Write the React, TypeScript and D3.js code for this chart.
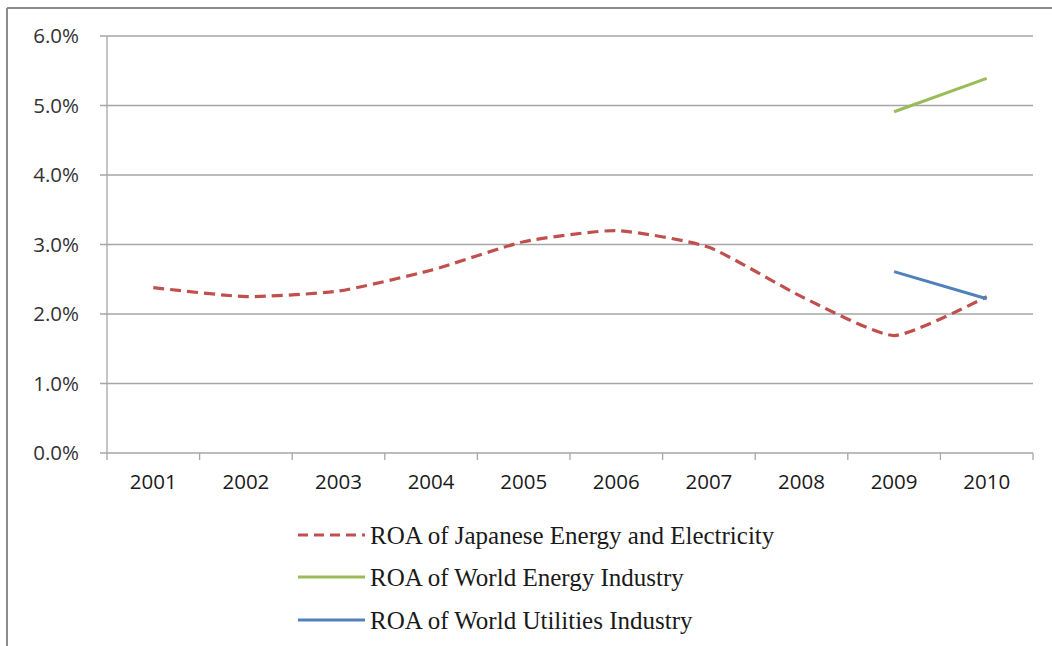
import React from "react";
import * as d3 from "d3";

const years = ["2001", "2002", "2003", "2004", "2005", "2006", "2007", "2008", "2009", "2010"];
const japanRoa = [2.38, 2.25, 2.33, 2.63, 3.04, 3.2, 2.96, 2.25, 1.69, 2.25];
const worldEnergyYears = ["2009", "2010"];
const worldEnergyRoa = [4.91, 5.39];
const worldUtilYears = ["2009", "2010"];
const worldUtilRoa = [2.61, 2.22];
const yTicks = [0, 1, 2, 3, 4, 5, 6];
const legendLabels = [
  "ROA of Japanese Energy and Electricity",
  "ROA of World Energy Industry",
  "ROA of World Utilities Industry",
];

const W = 1052;
const H = 646;
const left = 107;
const right = 1033;
const top = 36;
const bottom = 453;

const RED = "#c0504d";
const GREEN = "#9bbb59";
const BLUE = "#4f81bd";

export default function App() {
  const x = d3.scaleBand<string>().domain(years).range([left, right]).paddingInner(0).paddingOuter(0);
  const xc = (yr: string) => (x(yr) as number) + x.bandwidth() / 2;
  const y = d3.scaleLinear().domain([0, 6]).range([bottom, top]);

  const smooth = d3
    .line<[string, number]>()
    .x((d) => xc(d[0]))
    .y((d) => y(d[1]))
    .curve(d3.curveCardinal.tension(0.45));
  const straight = d3
    .line<[string, number]>()
    .x((d) => xc(d[0]))
    .y((d) => y(d[1]));

  const japanPath = smooth(years.map((yr, i) => [yr, japanRoa[i]] as [string, number])) || "";
  const energyPath = straight(worldEnergyYears.map((yr, i) => [yr, worldEnergyRoa[i]] as [string, number])) || "";
  const utilPath = straight(worldUtilYears.map((yr, i) => [yr, worldUtilRoa[i]] as [string, number])) || "";

  const boundaries = years.map((yr) => x(yr) as number).concat([right]);

  const legendStyles = [
    { color: RED, dash: "10,6" },
    { color: GREEN, dash: "none" },
    { color: BLUE, dash: "none" },
  ];
  const legendY = [535, 577, 620];

  return (
    <svg
      width={W}
      height={H}
      style={{ position: "absolute", left: 0, top: 0, background: "#fff" }}
    >
      {/* outer frame */}
      <line x1={7} y1={8} x2={W} y2={8} stroke="#8c8c8c" strokeWidth={2} />
      <line x1={7} y1={8} x2={7} y2={H} stroke="#8c8c8c" strokeWidth={2} />

      {/* gridlines + y ticks */}
      {yTicks.map((t) => (
        <g key={t}>
          <line x1={100} x2={right} y1={y(t)} y2={y(t)} stroke="#a6a6a6" strokeWidth={1.3} />
          <text
            x={79}
            y={y(t)}
            dy="0.35em"
            textAnchor="end"
            fontFamily="'Open Sans', sans-serif"
            fontSize={20.5}
            fill="#333"
          >
            {t.toFixed(1) + "%"}
          </text>
        </g>
      ))}
      {/* y axis */}
      <line x1={left} x2={left} y1={top} y2={bottom} stroke="#a6a6a6" strokeWidth={1.3} />
      {/* x ticks */}
      {boundaries.map((b, i) => (
        <line key={i} x1={b} x2={b} y1={bottom} y2={bottom + 7} stroke="#a6a6a6" strokeWidth={1.3} />
      ))}
      {years.map((yr) => (
        <text
          key={yr}
          x={xc(yr)}
          y={482}
          dy="0.35em"
          textAnchor="middle"
          fontFamily="'Open Sans', sans-serif"
          fontSize={20.5}
          fill="#1a1a1a"
        >
          {yr}
        </text>
      ))}

      {/* series */}
      <path d={japanPath} fill="none" stroke={RED} strokeWidth={3.2} strokeDasharray="11,6" />
      <path d={energyPath} fill="none" stroke={GREEN} strokeWidth={3} />
      <path d={utilPath} fill="none" stroke={BLUE} strokeWidth={3} />

      {/* legend */}
      {legendLabels.map((lab, i) => (
        <g key={lab}>
          <line
            x1={298}
            x2={365}
            y1={legendY[i]}
            y2={legendY[i]}
            stroke={legendStyles[i].color}
            strokeWidth={3}
            strokeDasharray={legendStyles[i].dash}
          />
          <text
            x={370}
            y={legendY[i]}
            dy="0.35em"
            fontFamily="'Liberation Serif', 'Times New Roman', serif"
            fontSize={25}
            fill="#1a1a1a"
          >
            {lab}
          </text>
        </g>
      ))}
    </svg>
  );
}
